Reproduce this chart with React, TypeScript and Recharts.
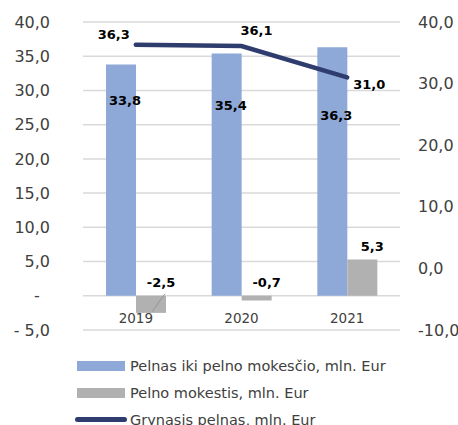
import {
	ComposedChart,
	Bar,
	Line,
	XAxis,
	YAxis,
	CartesianGrid,
	LabelList,
} from "recharts";

const years = ["2019", "2020", "2021"];
const pelnasIki = [33.8, 35.4, 36.3];
const pelnoMokestis = [-2.5, -0.7, 5.3];
const grynasisPelnas = [36.3, 36.1, 31.0];
const leftTicks = [-5, 0, 5, 10, 15, 20, 25, 30, 35, 40];
const rightTicks = [-10, 0, 10, 20, 30, 40];

const BLUE = "#8EA9D8";
const GRAY = "#B1B1B1";
const NAVY = "#2F3C6E";
const FONT = "'DejaVu Sans', sans-serif";
const AXIS_TEXT = "#404040";

// label nudges, as placed by hand in the original
const BLUE_LABEL_DY = [36, 52, 68];
const LINE_LABEL_NUDGE: [number, number][] = [
	[-22, -10],
	[15, -16],
	[22, 7],
];

const chartData = years.map((year, i) => ({
	year,
	pelnasIki: pelnasIki[i],
	pelnoMokestis: pelnoMokestis[i],
	grynasis: grynasisPelnas[i],
}));

const fmt = (v: number) => v.toFixed(1).replace(".", ",");

const fmtLeft = (v: number) => {
	if (v === 0) return "-\u00a0\u00a0";
	if (v < 0) return `- ${fmt(-v)}`;
	return fmt(v);
};

function BlueLabel(props: any) {
	const { x, y, width, height, value, index } = props;
	const top = Math.min(y, y + height);
	return (
		<text
			x={x + width / 2 + 4}
			y={top + BLUE_LABEL_DY[index]}
			textAnchor="middle"
			dominantBaseline="central"
			fontFamily={FONT}
			fontWeight="bold"
			fontSize={13}
			fill="#000"
		>
			{fmt(value)}
		</text>
	);
}

function GrayLabel(props: any) {
	const { x, y, width, height, value } = props;
	const top = Math.min(y, y + height);
	const cx = x + width / 2;
	return (
		<g>
			{value < -1 && (
				<line
					x1={cx + 14}
					y1={top - 2}
					x2={cx + 1}
					y2={top + 16}
					stroke="#8c8c8c"
					strokeWidth={0.8}
				/>
			)}
			<text
				x={cx + 10}
				y={top - 13}
				textAnchor="middle"
				dominantBaseline="central"
				fontFamily={FONT}
				fontWeight="bold"
				fontSize={13}
				fill="#000"
			>
				{fmt(value)}
			</text>
		</g>
	);
}

function LineLabel(props: any) {
	const { x, y, value, index } = props;
	const [dx, dy] = LINE_LABEL_NUDGE[index];
	return (
		<text
			x={x + dx}
			y={y + dy}
			textAnchor="middle"
			dominantBaseline="central"
			fontFamily={FONT}
			fontWeight="bold"
			fontSize={13}
			fill="#000"
		>
			{fmt(value)}
		</text>
	);
}

function YearTick(props: any) {
	const { x, y, payload } = props;
	return (
		<text
			x={x}
			y={y - 12}
			textAnchor="middle"
			dominantBaseline="central"
			fontFamily={FONT}
			fontSize={13.5}
			fill={AXIS_TEXT}
		>
			{payload.value}
		</text>
	);
}

const legendItems = [
	{ label: "Pelnas iki pelno mokesčio, mln. Eur", color: BLUE, kind: "bar" },
	{ label: "Pelno mokestis, mln. Eur", color: GRAY, kind: "bar" },
	{ label: "Grynasis pelnas, mln. Eur", color: NAVY, kind: "line" },
];

export default function App() {
	return (
		<div
			style={{
				position: "relative",
				width: 458,
				height: 425,
				overflow: "hidden",
				background: "#fff",
			}}
		>
			<style>{"body{margin:0}"}</style>
			<ComposedChart
				width={458}
				height={345}
				data={chartData}
				margin={{ top: 22, right: 0, left: 0, bottom: 0 }}
				barSize={30}
				barGap={0}
			>
				<CartesianGrid
					yAxisId="left"
					vertical={false}
					stroke="#d9d9d9"
					strokeWidth={1.5}
				/>
				<XAxis
					dataKey="year"
					height={15}
					axisLine={false}
					tickLine={false}
					tickSize={0}
					tickMargin={0}
					tick={<YearTick />}
				/>
				<YAxis
					yAxisId="left"
					width={83}
					domain={[-5, 40]}
					ticks={leftTicks}
					interval={0}
					axisLine={false}
					tickLine={false}
					tickSize={0}
					tickMargin={33}
					tickFormatter={fmtLeft}
					tick={{ fill: AXIS_TEXT, fontSize: 16, fontFamily: FONT }}
				/>
				<YAxis
					yAxisId="right"
					orientation="right"
					width={58}
					domain={[-10, 40]}
					ticks={rightTicks}
					interval={0}
					axisLine={false}
					tickLine={false}
					tickSize={0}
					tickMargin={18}
					tickFormatter={fmt}
					tick={{ fill: AXIS_TEXT, fontSize: 16, fontFamily: FONT }}
				/>
				<Bar
					yAxisId="left"
					dataKey="pelnasIki"
					fill={BLUE}
					isAnimationActive={false}
				>
					<LabelList dataKey="pelnasIki" content={<BlueLabel />} />
				</Bar>
				<Bar
					yAxisId="left"
					dataKey="pelnoMokestis"
					fill={GRAY}
					isAnimationActive={false}
				>
					<LabelList dataKey="pelnoMokestis" content={<GrayLabel />} />
				</Bar>
				<Line
					yAxisId="right"
					dataKey="grynasis"
					stroke={NAVY}
					strokeWidth={4.5}
					strokeLinecap="round"
					dot={false}
					activeDot={false}
					isAnimationActive={false}
				>
					<LabelList dataKey="grynasis" content={<LineLabel />} />
				</Line>
			</ComposedChart>

			<div
				style={{
					position: "absolute",
					left: 75,
					top: 352,
					display: "flex",
					flexDirection: "column",
				}}
			>
				{legendItems.map((item) => (
					<div
						key={item.label}
						style={{ display: "flex", alignItems: "center", height: 27 }}
					>
						<div
							style={{
								width: 52,
								display: "flex",
								justifyContent: "center",
								marginRight: 3,
							}}
						>
							{item.kind === "bar" ? (
								<div style={{ width: 48, height: 10, background: item.color }} />
							) : (
								<div
									style={{
										width: 52,
										height: 4.5,
										borderRadius: 3,
										background: item.color,
									}}
								/>
							)}
						</div>
						<span
							style={{
								fontFamily: FONT,
								fontSize: 14.5,
								color: AXIS_TEXT,
								whiteSpace: "nowrap",
							}}
						>
							{item.label}
						</span>
					</div>
				))}
			</div>
		</div>
	);
}
